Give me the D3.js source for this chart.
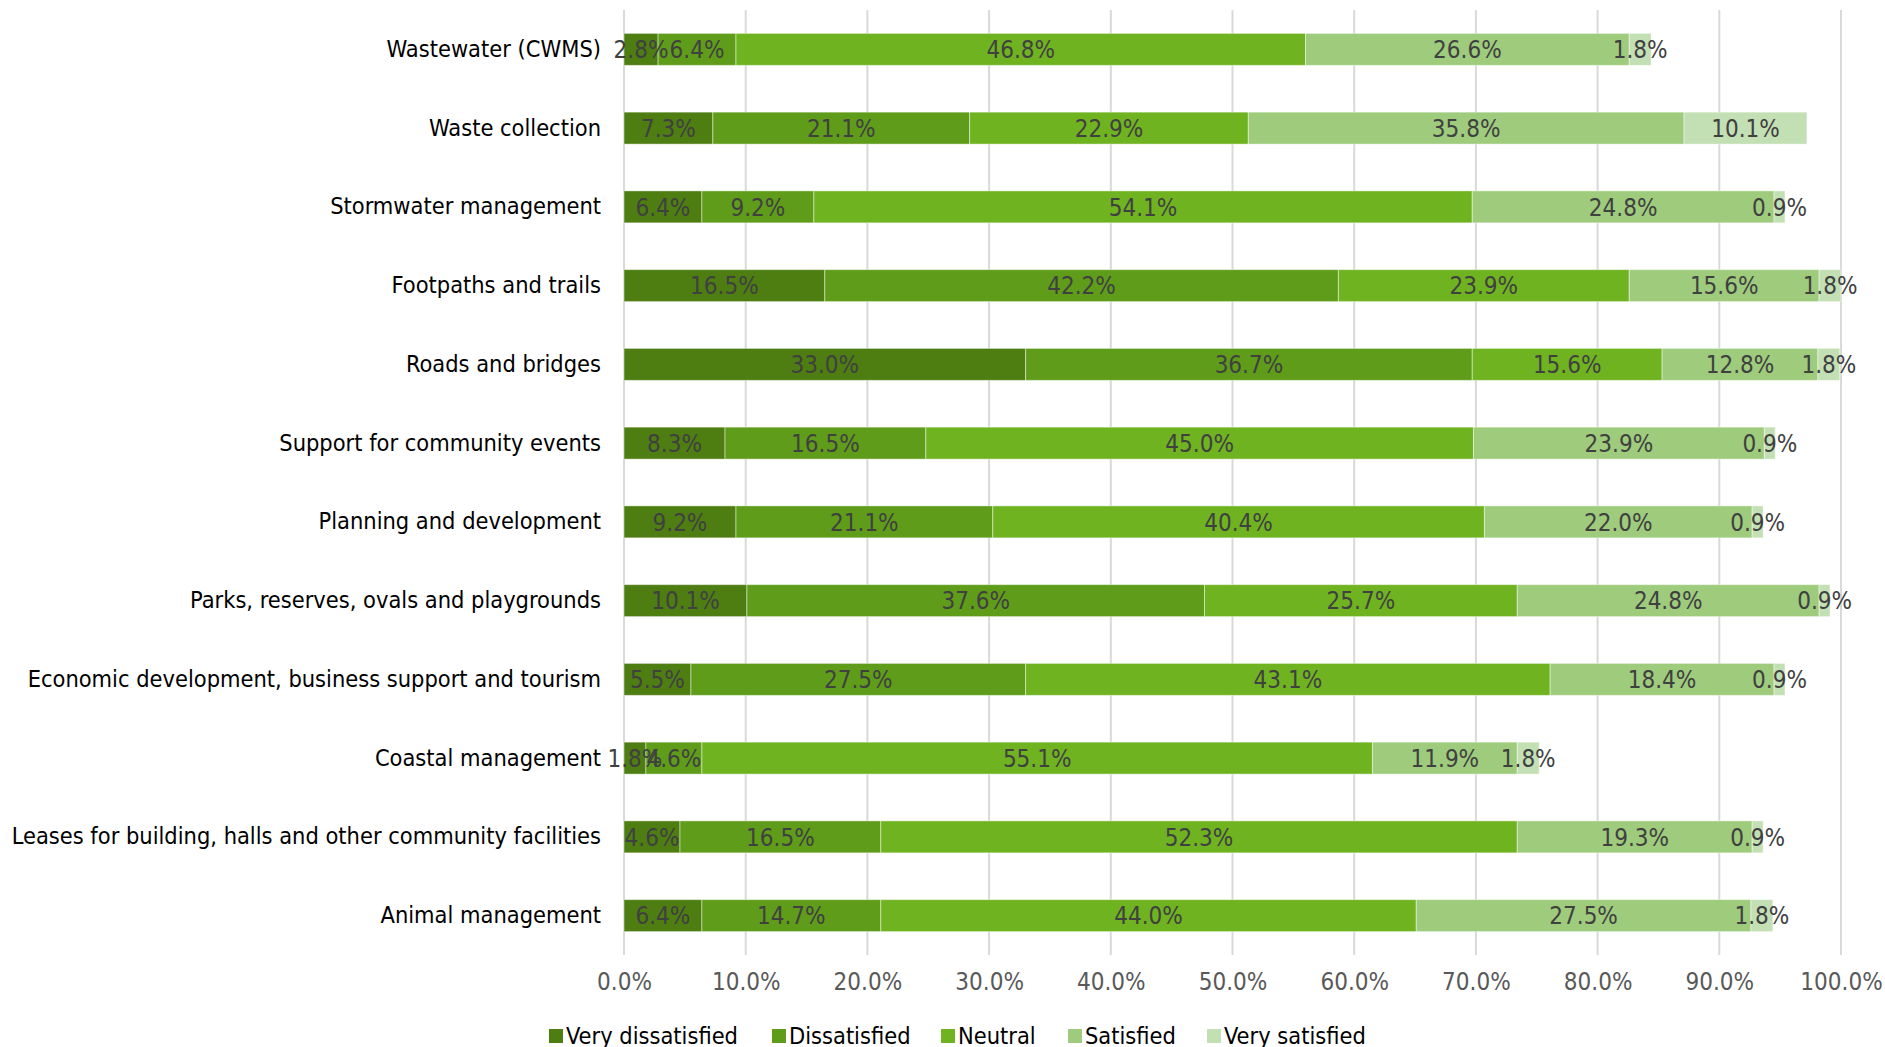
<!DOCTYPE html>
<html>
<head>
<meta charset="utf-8">
<script src="https://cdn.jsdelivr.net/npm/d3@7"></script>
<style>
  html, body { margin: 0; padding: 0; background: #fff; }
  svg { display: block; font-family: "DejaVu Sans Condensed", "DejaVu Sans", sans-serif; }
</style>
</head>
<body>
<svg id="chart" width="1885" height="1047"></svg>
<script>
// Service areas, top to bottom
const categories = [
  "Wastewater (CWMS)",
  "Waste collection",
  "Stormwater management",
  "Footpaths and trails",
  "Roads and bridges",
  "Support for community events",
  "Planning and development",
  "Parks, reserves, ovals and playgrounds",
  "Economic development, business support and tourism",
  "Coastal management",
  "Leases for building, halls and other community facilities",
  "Animal management"
];

const seriesNames = ["Very dissatisfied", "Dissatisfied", "Neutral", "Satisfied", "Very satisfied"];

// Percentage of respondents per category for each satisfaction level
const veryDissatisfied = [2.8, 7.3, 6.4, 16.5, 33.0, 8.3, 9.2, 10.1, 5.5, 1.8, 4.6, 6.4];
const dissatisfied     = [6.4, 21.1, 9.2, 42.2, 36.7, 16.5, 21.1, 37.6, 27.5, 4.6, 16.5, 14.7];
const neutral          = [46.8, 22.9, 54.1, 23.9, 15.6, 45.0, 40.4, 25.7, 43.1, 55.1, 52.3, 44.0];
const satisfied        = [26.6, 35.8, 24.8, 15.6, 12.8, 23.9, 22.0, 24.8, 18.4, 11.9, 19.3, 27.5];
const verySatisfied    = [1.8, 10.1, 0.9, 1.8, 1.8, 0.9, 0.9, 0.9, 0.9, 1.8, 0.9, 1.8];

const tickValues = [0, 10, 20, 30, 40, 50, 60, 70, 80, 90, 100];

const colors = ["#4e7d12", "#5f9c1a", "#70b321", "#9ecb7c", "#c3dfb4"];

const seriesValues = [veryDissatisfied, dissatisfied, neutral, satisfied, verySatisfied];

// Rows for the stack layout
const rows = categories.map((c, i) => {
  const r = { category: c };
  seriesNames.forEach((s, k) => { r[s] = seriesValues[k][i]; });
  return r;
});

const svg = d3.select("#chart");
const margin = { left: 624, right: 44, top: 10, bottom: 92 };
const W = 1885, H = 1047;

const x = d3.scaleLinear().domain([0, 100]).range([margin.left, W - margin.right]);
const y = d3.scaleBand().domain(categories).range([margin.top, H - margin.bottom]).paddingInner(0.594).paddingOuter(0.297);

// Vertical gridlines
svg.append("g")
  .selectAll("line")
  .data(tickValues)
  .join("line")
  .attr("x1", d => x(d)).attr("x2", d => x(d))
  .attr("y1", margin.top).attr("y2", H - margin.bottom)
  .attr("stroke", "#d9d9d9")
  .attr("stroke-width", 2);

const stack = d3.stack().keys(seriesNames);
const stacked = stack(rows);

const layers = svg.append("g")
  .selectAll("g")
  .data(stacked)
  .join("g")
  .attr("fill", (d, i) => colors[i]);

layers.selectAll("rect")
  .data(d => d)
  .join("rect")
  .attr("x", d => x(d[0]))
  .attr("width", d => x(d[1]) - x(d[0]))
  .attr("y", d => y(d.data.category))
  .attr("height", y.bandwidth())
  .attr("stroke", "#ffffff")
  .attr("stroke-opacity", 0.45)
  .attr("stroke-width", 1);

// Data labels centred in each segment
const labels = svg.append("g")
  .attr("font-size", 24)
  .attr("fill", "#404040")
  .attr("text-anchor", "middle");

stacked.forEach(layer => {
  labels.selectAll(null)
    .data(layer)
    .join("text")
    .attr("x", d => (x(d[0]) + x(d[1])) / 2)
    .attr("y", d => y(d.data.category) + y.bandwidth() / 2)
    .attr("dy", "0.36em")
    .text(d => (d[1] - d[0]).toFixed(1) + "%");
});

// Category axis (left)
const yAxis = svg.append("g")
  .attr("transform", `translate(${margin.left},0)`)
  .call(d3.axisLeft(y).tickSize(0).tickPadding(23));
yAxis.select(".domain").remove();
yAxis.selectAll("text")
  .attr("font-size", 23.4)
  .attr("font-family", "\"DejaVu Sans Condensed\", sans-serif")
  .attr("fill", "#000");

// Value axis (bottom)
const xAxis = svg.append("g")
  .attr("transform", `translate(0,${H - margin.bottom})`)
  .call(d3.axisBottom(x).tickValues(tickValues).tickSize(0).tickPadding(18)
        .tickFormat(d => d.toFixed(1) + "%"));
xAxis.select(".domain").remove();
xAxis.selectAll("text")
  .attr("font-size", 24)
  .attr("font-family", "\"DejaVu Sans Condensed\", sans-serif")
  .attr("fill", "#595959");

// Legend
const legendX = [549, 772, 941, 1068, 1207];
const legend = svg.append("g");
seriesNames.forEach((s, i) => {
  const g = legend.append("g").attr("transform", `translate(${legendX[i]},1036)`);
  g.append("rect").attr("x", 0).attr("y", -7).attr("width", 14).attr("height", 14).attr("fill", colors[i]);
  g.append("text").attr("x", 17).attr("y", 0).attr("dy", "0.36em")
    .attr("font-size", 23.4).attr("fill", "#000").text(s);
});
</script>
</body>
</html>
